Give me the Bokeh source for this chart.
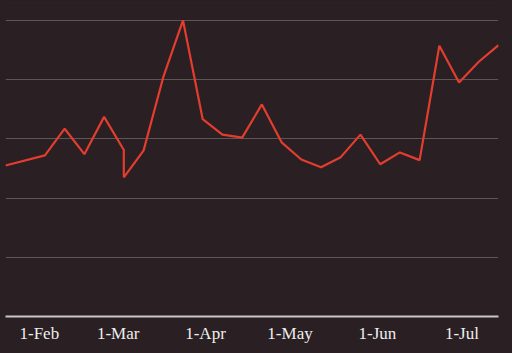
from datetime import datetime
from bokeh.plotting import figure
from bokeh.models import Range1d, FixedTicker, Label
from bokeh.embed import file_html
from bokeh.resources import INLINE

dates = ["2019-01-20", "2019-02-03", "2019-02-10", "2019-02-17", "2019-02-24",
         "2019-03-03", "2019-03-03", "2019-03-10", "2019-03-17", "2019-03-24",
         "2019-03-31", "2019-04-07", "2019-04-14", "2019-04-21", "2019-04-28",
         "2019-05-05", "2019-05-12", "2019-05-19", "2019-05-26", "2019-06-02",
         "2019-06-09", "2019-06-16", "2019-06-23", "2019-06-30", "2019-07-07",
         "2019-07-14"]
values = [2.55, 2.72, 3.17, 2.74, 3.37,
          2.81, 2.35, 2.80, 4.04, 5.00,
          3.33, 3.07, 3.02, 3.58, 2.94,
          2.65, 2.52, 2.69, 3.07, 2.57,
          2.77, 2.64, 4.57, 3.95, 4.30,
          4.58]
tick_dates = ["2019-02-01", "2019-03-01", "2019-04-01", "2019-05-01", "2019-06-01", "2019-07-01"]
tick_labels = ["1-Feb", "1-Mar", "1-Apr", "1-May", "1-Jun", "1-Jul"]
grid_values = [1, 2, 3, 4, 5]

BG = "#2a1f22"

def ms(s):
    return datetime.strptime(s, "%Y-%m-%d").timestamp() * 1000.0

xs = [ms(d) for d in dates]
ticks = [ms(d) for d in tick_dates]

p = figure(width=512, height=353, x_axis_type="datetime",
           output_backend="svg", toolbar_location=None,
           x_range=Range1d(xs[0], xs[-1]), y_range=Range1d(0, 5.25),
           min_border_left=5, min_border_right=14, min_border_top=5,
           min_border_bottom=37, styles={"background-color": BG})
p.background_fill_color = BG
p.border_fill_color = BG
p.outline_line_color = None
p.border_line_color = None

p.line(xs, values, line_color="#e23d2f", line_width=2.2)

p.yaxis.visible = False
p.xgrid.visible = False
p.ygrid.ticker = FixedTicker(ticks=grid_values)
p.ygrid.grid_line_color = "#5e5557"
p.ygrid.grid_line_width = 1

ax = p.xaxis[0]
ax.ticker = FixedTicker(ticks=ticks)
ax.major_label_overrides = {t: l for t, l in zip(ticks, tick_labels)}
ax.axis_line_color = "#c9c9c9"
ax.axis_line_width = 2
ax.major_tick_line_color = None
ax.minor_tick_line_color = None
ax.major_tick_out = 0
ax.major_tick_in = 0
ax.major_label_standoff = 7
ax.major_label_text_color = "#eeeeee"
ax.major_label_text_font = "Liberation Serif"
ax.major_label_text_font_size = "17px"

# menu "⋮" icon near the top-right corner (x in screen px, y in data units)
p.add_layout(Label(x=503, y=5.1, x_units="screen", y_units="data", text="⋮",
                   text_align="center", text_baseline="middle",
                   text_color="#000000", text_font_size="18px", text_font="DejaVu Sans"))

open("out.html", "w").write(file_html(p, INLINE))
